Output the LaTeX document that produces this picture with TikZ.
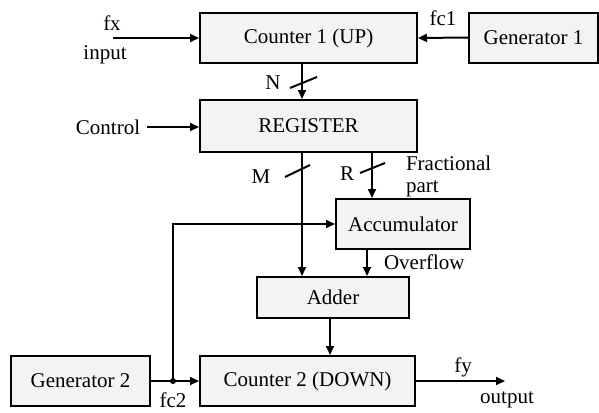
\documentclass[tikz,border=0pt]{standalone}
\usepackage{fontspec}
\setmainfont{Liberation Serif}
\usetikzlibrary{arrows.meta}
\definecolor{boxgray}{RGB}{244,243,241}

\begin{document}
\begin{tikzpicture}[x=0.5pt,y=-0.5pt,
        font=\fontsize{10.5}{11}\selectfont,
        block/.style={draw,line width=1pt,fill=boxgray,inner sep=0pt},
        arr/.style={line width=1pt,-{Triangle[length=4.5pt,width=4pt]}},
        wire/.style={line width=1pt}]
        \useasboundingbox (0,0) rectangle (599,412);
        % blocks
        \node[block,minimum width=108.5pt,minimum height=25pt] (cntup) at (308.5,38) {Counter 1 (UP)};
        \node[block,minimum width=64.5pt,minimum height=25pt] (gena) at (533.5,37.5) {Generator 1};
        \node[block,minimum width=108.5pt,minimum height=26pt] (reg) at (308.5,126) {REGISTER};
        \node[block,minimum width=67pt,minimum height=25pt] (acc) at (403,224) {Accumulator};
        \node[block,minimum width=76pt,minimum height=20.5pt] (add) at (333,297.5) {Adder};
        \node[block,minimum width=107.5pt,minimum height=25pt] (cntdown) at (307.5,381) {Counter 2 (DOWN)};
        \node[block,minimum width=69.5pt,minimum height=25pt] (genb) at (80.5,381) {Generator 2};

        % labels
        \node (fxl) at (112,23) {fx};
        \node (inl) at (105,55) {input};
        \node (fcal) at (443,18) {fc1};
        \node (nl) at (273,83) {N};
        \node (ctl) at (108,127) {Control};
        \node (ml) at (261,177) {M};
        \node (rl) at (347,174) {R};
        \node[align=left,anchor=west] (fracl) at (399,176) {Fractional\\part};
        \node[anchor=west] (ovl) at (377,262) {Overflow};
        \node (fyl) at (463,367) {fy};
        \node (outl) at (507,400) {output};
        \node (fcbl) at (173,400) {fc2};

        % bus positions
        \coordinate (nbus) at (302,0);
        \coordinate (rbus) at (372,0);
        \coordinate (obus) at (367,0);
        \coordinate (sbus) at (330,0);
        \coordinate (fxin) at (113,38);
        \coordinate (fyout) at (505,381);
        \coordinate (jn) at (173,381);

        % connectors
        \draw[arr] (fxin) -- (cntup.west);
        \draw[arr] (gena.west) -- (cntup.east);
        \draw[arr] (nbus |- cntup.south) -- (nbus |- reg.north);
        \draw[arr] (ctl.east) -- (ctl.east -| reg.west);
        \draw[arr] (nbus |- reg.south) -- (nbus |- add.north);
        \draw[arr] (rbus |- reg.south) -- (rbus |- acc.north);
        \draw[arr] (obus |- acc.south) -- (obus |- add.north);
        \draw[arr] (sbus |- add.south) -- (sbus |- cntdown.north);
        \draw[arr] (genb.east) -- (cntdown.west);
        \draw[arr] (jn) |- (acc.west);
        \draw[arr] (cntdown.east) -- (fyout);
        \fill (jn) circle (3);

        % bus width marks
        \draw[wire] (290,88) -- (317,77);
        \draw[wire] (285,177) -- (310,165);
        \draw[wire] (360,173) -- (385,163);
\end{tikzpicture}
\end{document}
